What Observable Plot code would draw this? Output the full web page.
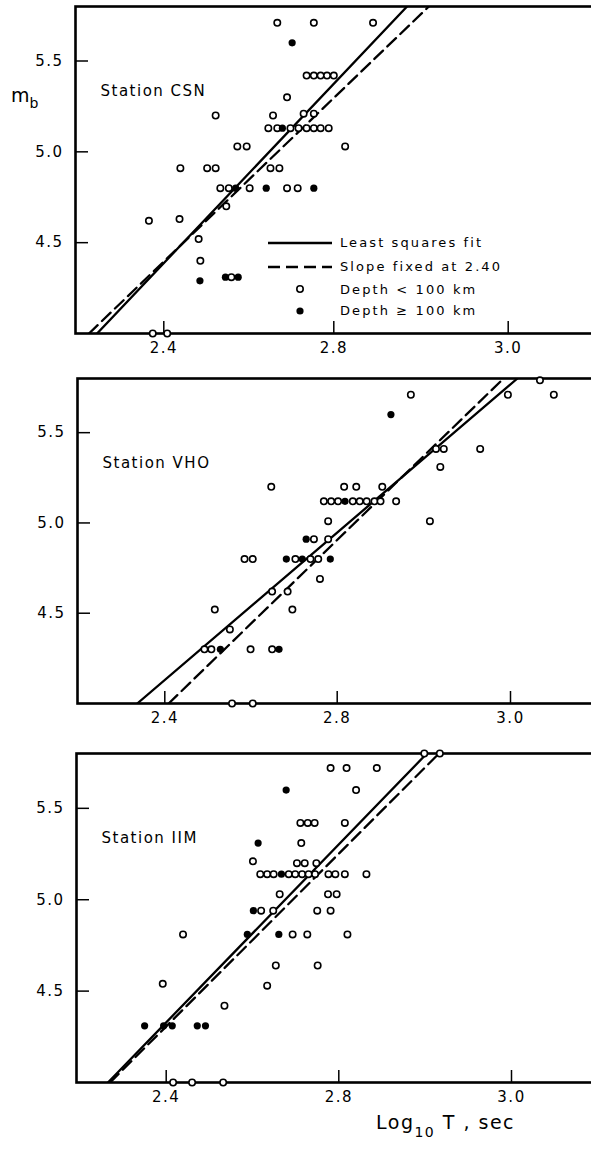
<!DOCTYPE html>
<html><head><meta charset="utf-8">
<script src="https://cdn.jsdelivr.net/npm/d3@7"></script>
<script src="https://cdn.jsdelivr.net/npm/@observablehq/plot@0.6"></script>
<style>
body{margin:0;background:#fff;}
#wrap{position:relative;width:591px;height:1149px;overflow:hidden;font-family:"DejaVu Sans",sans-serif;color:#000;}
#wrap > svg{display:block;}
.ov{position:absolute;white-space:nowrap;line-height:1;}
</style></head><body><div id="wrap"></div>
<script>
// ---- axis ticks ----
const xTicks = [2.4, 2.8, 3.0];
const yTicks = [4.5, 5.0, 5.5];
const yDomain = [4.0, 5.8];

// ---- Station CSN : [log10 T, mb] ----
const csnShallow = [
  [2.667,5.71],[2.753,5.71],[2.845,5.71],
  [2.736,5.42],[2.753,5.42],[2.769,5.42],[2.784,5.42],[2.800,5.42],
  [2.690,5.30],
  [2.522,5.20],[2.657,5.20],[2.729,5.21],[2.753,5.21],
  [2.646,5.13],[2.667,5.13],[2.698,5.13],[2.717,5.13],[2.736,5.13],[2.753,5.13],[2.769,5.13],[2.788,5.13],
  [2.573,5.03],[2.595,5.03],[2.813,5.03],
  [2.439,4.91],[2.502,4.91],[2.522,4.91],[2.651,4.91],[2.672,4.91],
  [2.533,4.80],[2.553,4.80],[2.602,4.80],[2.690,4.80],[2.715,4.80],
  [2.547,4.70],
  [2.365,4.62],[2.437,4.63],
  [2.482,4.52],
  [2.486,4.40],
  [2.559,4.31],
  [2.374,4.00],[2.408,4.00]
];
const csnDeep = [
  [2.702,5.60],[2.679,5.13],[2.569,4.80],[2.641,4.80],[2.753,4.80],
  [2.485,4.29],[2.545,4.31],[2.575,4.31]
];
const csnLeastSquares = [[2.243,4.0],[2.884,5.8]];
const csnFixedSlope = [[2.224,4.0],[2.909,5.8]];

// ---- Station VHO ----
const vhoShallow = [
  [3.034,5.79],[2.885,5.71],[2.997,5.71],[3.050,5.71],
  [2.914,5.41],[2.923,5.41],[2.965,5.41],
  [2.919,5.31],
  [2.647,5.20],[2.808,5.20],[2.822,5.20],[2.852,5.20],
  [2.769,5.12],[2.786,5.12],[2.801,5.12],[2.818,5.12],[2.826,5.12],[2.834,5.12],[2.843,5.12],[2.850,5.12],[2.868,5.12],
  [2.907,5.01],[2.779,5.01],
  [2.746,4.91],[2.779,4.91],
  [2.585,4.80],[2.604,4.80],[2.703,4.80],[2.738,4.80],[2.756,4.80],
  [2.760,4.69],
  [2.649,4.62],[2.685,4.62],
  [2.516,4.52],[2.696,4.52],
  [2.551,4.41],
  [2.492,4.30],[2.508,4.30],[2.599,4.30],[2.649,4.30],
  [2.556,4.00],[2.604,4.00]
];
const vhoDeep = [
  [2.862,5.60],[2.809,5.12],[2.728,4.91],[2.682,4.80],[2.719,4.80],[2.784,4.80],
  [2.529,4.30],[2.665,4.30]
];
const vhoLeastSquares = [[2.336,4.0],[3.008,5.8]];
const vhoFixedSlope = [[2.409,4.0],[2.992,5.8]];

// ---- Station IIM ----
const iimShallow = [
  [2.899,5.80],[2.917,5.80],
  [2.781,5.72],[2.809,5.72],[2.844,5.72],
  [2.820,5.60],
  [2.711,5.42],[2.728,5.42],[2.744,5.42],[2.807,5.42],
  [2.713,5.31],
  [2.601,5.21],[2.703,5.20],[2.721,5.20],[2.748,5.20],
  [2.618,5.14],[2.634,5.14],[2.649,5.14],[2.684,5.14],[2.699,5.14],[2.715,5.14],[2.730,5.14],[2.745,5.14],
  [2.776,5.14],[2.792,5.14],[2.807,5.14],[2.832,5.14],
  [2.663,5.03],[2.775,5.03],[2.795,5.03],
  [2.620,4.94],[2.648,4.94],[2.750,4.94],[2.781,4.94],
  [2.439,4.81],[2.693,4.81],[2.727,4.81],[2.810,4.81],
  [2.654,4.64],[2.751,4.64],
  [2.634,4.53],
  [2.392,4.54],
  [2.535,4.42],
  [2.416,4.00],[2.460,4.00],[2.532,4.00]
];
const iimDeep = [
  [2.678,5.60],[2.613,5.31],[2.667,5.14],[2.602,4.94],[2.588,4.81],[2.661,4.81],
  [2.350,4.31],[2.394,4.31],[2.414,4.31],[2.472,4.31],[2.491,4.31]
];
const iimLeastSquares = [[2.265,4.0],[2.902,5.8]];
const iimFixedSlope = [[2.270,4.0],[2.916,5.8]];

const FONT = '"DejaVu Sans", sans-serif';

// The printed axis is not uniform: the 2.8 -> 3.0 interval is drawn as long as 2.4 -> 2.8.
// A piecewise-linear scale transform reproduces the printed tick spacing.
function panel({name, shallow, deep, lsq, fixed, tickPx, marginLeft, marginTop, marginBottom, height}) {
  const [a, b, c] = tickPx;
  const far = xTicks[1] + (c - b) / (b - a) * (xTicks[1] - xTicks[0]);
  const warp = d3.scaleLinear().domain(xTicks).range([xTicks[0], xTicks[1], far]);
  return Plot.plot({
    width: 591, height, marginLeft, marginRight: -6, marginTop, marginBottom,
    style: {fontFamily: FONT, fontSize: "15px", color: "#000", background: "#fff", overflow: "hidden", letterSpacing: "1.5px"},
    x: {type: "linear", transform: warp, domain: [xTicks[0], xTicks[1]], range: [a, b], label: null},
    y: {domain: yDomain, label: null},
    marks: [
      Plot.line(lsq, {x: d => d[0], y: d => d[1], stroke: "#000", strokeWidth: 2.3, clip: true}),
      Plot.line(fixed, {x: d => d[0], y: d => d[1], stroke: "#000", strokeWidth: 2.3, strokeDasharray: "12,6", clip: true}),
      Plot.frame({stroke: "#000", strokeWidth: 2.6}),
      Plot.axisX(xTicks, {anchor: "bottom", tickSize: -12, tickPadding: 21, strokeWidth: 1.5, tickFormat: d3.format(".1f"), label: null}),
      Plot.axisY(yTicks, {anchor: "left", tickSize: -13, tickPadding: 25, strokeWidth: 1.5, tickFormat: d3.format(".1f"), label: null}),
      Plot.dot(shallow, {x: d => d[0], y: d => d[1], r: 3.2, fill: "#fff", stroke: "#000", strokeWidth: 1.6}),
      Plot.dot(deep, {x: d => d[0], y: d => d[1], r: 3.6, fill: "#000"}),
      Plot.text([name], {text: d => d, frameAnchor: "top-left", dx: 25, dy: 85, textAnchor: "start", lineAnchor: "middle", fontSize: 15, letterSpacing: "2px"})
    ]
  });
}

const wrap = document.getElementById("wrap");
wrap.append(
  panel({name: "Station CSN", shallow: csnShallow, deep: csnDeep, lsq: csnLeastSquares, fixed: csnFixedSlope,
         tickPx: [163.3, 333.3, 507.7], marginLeft: 75, marginTop: 6, marginBottom: 27, height: 360}),
  panel({name: "Station VHO", shallow: vhoShallow, deep: vhoDeep, lsq: vhoLeastSquares, fixed: vhoFixedSlope,
         tickPx: [164.3, 336.7, 510], marginLeft: 77, marginTop: 18, marginBottom: 27, height: 370}),
  panel({name: "Station IIM", shallow: iimShallow, deep: iimDeep, lsq: iimLeastSquares, fixed: iimFixedSlope,
         tickPx: [165.7, 338.3, 511], marginLeft: 76, marginTop: 23, marginBottom: 67, height: 419})
);

// legend (panel 1)
const legend = `
<svg class="ov" style="left:0;top:0" width="591" height="355" font-family='${FONT}' font-size="13" letter-spacing="2.1">
  <line x1="268" x2="332" y1="243" y2="243" stroke="#000" stroke-width="2.3"/>
  <text x="340" y="243" dominant-baseline="middle">Least squares fit</text>
  <line x1="268" x2="332" y1="267" y2="267" stroke="#000" stroke-width="2.3" stroke-dasharray="12,6"/>
  <text x="340" y="267" dominant-baseline="middle">Slope fixed at 2.40</text>
  <circle cx="300" cy="289" r="3.2" fill="#fff" stroke="#000" stroke-width="1.6"/>
  <text x="340" y="290" dominant-baseline="middle">Depth &lt; 100 km</text>
  <circle cx="300" cy="311" r="3.6" fill="#000"/>
  <text x="340" y="311" dominant-baseline="middle">Depth ≥ 100 km</text>
</svg>`;
wrap.insertAdjacentHTML("beforeend", legend);
wrap.insertAdjacentHTML("beforeend",
  `<div class="ov" style="left:11px;top:86px;font-size:19px;">m<sub style="font-size:14px;vertical-align:-6px;">b</sub></div>`);
wrap.insertAdjacentHTML("beforeend",
  `<div class="ov" style="left:376px;top:1113px;font-size:19px;letter-spacing:1.5px;">Log<sub style="font-size:14px;vertical-align:-8px;">10</sub> T , sec</div>`);
</script>
</body></html>
